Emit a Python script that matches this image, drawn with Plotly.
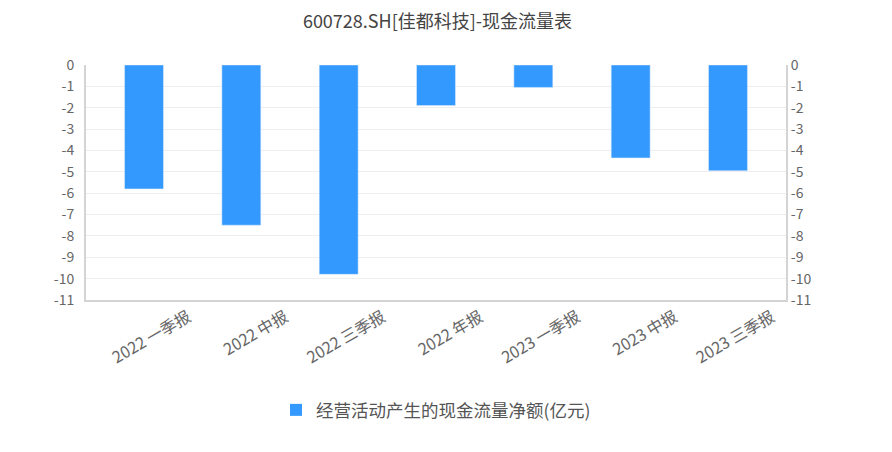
import plotly.graph_objects as go

categories = ["2022 一季报", "2022 中报", "2022 三季报", "2022 年报", "2023 一季报", "2023 中报", "2023 三季报"]
values = [-5.8, -7.5, -9.8, -1.9, -1.05, -4.35, -4.95]
series_name = "经营活动产生的现金流量净额(亿元)"
tick_vals = list(range(0, -12, -1))

FONT = "Noto Sans CJK SC, Microsoft YaHei, sans-serif"

fig = go.Figure()
fig.add_trace(go.Bar(
    x=categories, y=values, name=series_name,
    marker=dict(color="#3399FF", line=dict(width=0)),
    width=0.40,
))
# invisible trace for the right axis
fig.add_trace(go.Bar(x=categories, y=values, yaxis="y2", showlegend=False,
                     marker=dict(color="rgba(0,0,0,0)"), hoverinfo="skip", width=0.40))

axis_common = dict(
    range=[-11, 0], tickvals=tick_vals, ticktext=[str(v) for v in tick_vals],
    tickfont=dict(size=14, color="#666", family=FONT),
    showline=True, linecolor="#d4d4d4", linewidth=2,
    ticks="", zeroline=False, automargin=False,
)

pad = 0.096
fig.update_layout(
    width=892, height=452,
    margin=dict(l=78, r=114, t=57, b=160),
    paper_bgcolor="white", plot_bgcolor="white",
    title=dict(text="600728.SH[佳都科技]-现金流量表", x=0.4815, xanchor="center", y=0.969, yanchor="middle",
               font=dict(size=18, color="#444", family=FONT)),
    font=dict(family=FONT),
    barmode="overlay",
    xaxis=dict(tickangle=-30, tickfont=dict(size=16, color="#666", family=FONT),
               ticklabelshift=44, range=[-0.5 - pad, len(categories) - 0.5 + pad],
               showline=True, linecolor="#d4d4d4", linewidth=2, ticks="", showgrid=False,
               mirror=False, automargin=False),
    yaxis=dict(**axis_common, side="left", showgrid=True, gridcolor="#eeeeee", gridwidth=1,
               ticklabelstandoff=7),
    yaxis2=dict(**axis_common, side="right", overlaying="y", showgrid=False),
    legend=dict(orientation="h", x=0.5, xanchor="center", y=-0.468, yanchor="middle",
                font=dict(size=17.5, color="#555", family=FONT)),
    showlegend=True,
)

fig.write_html("out.html")
